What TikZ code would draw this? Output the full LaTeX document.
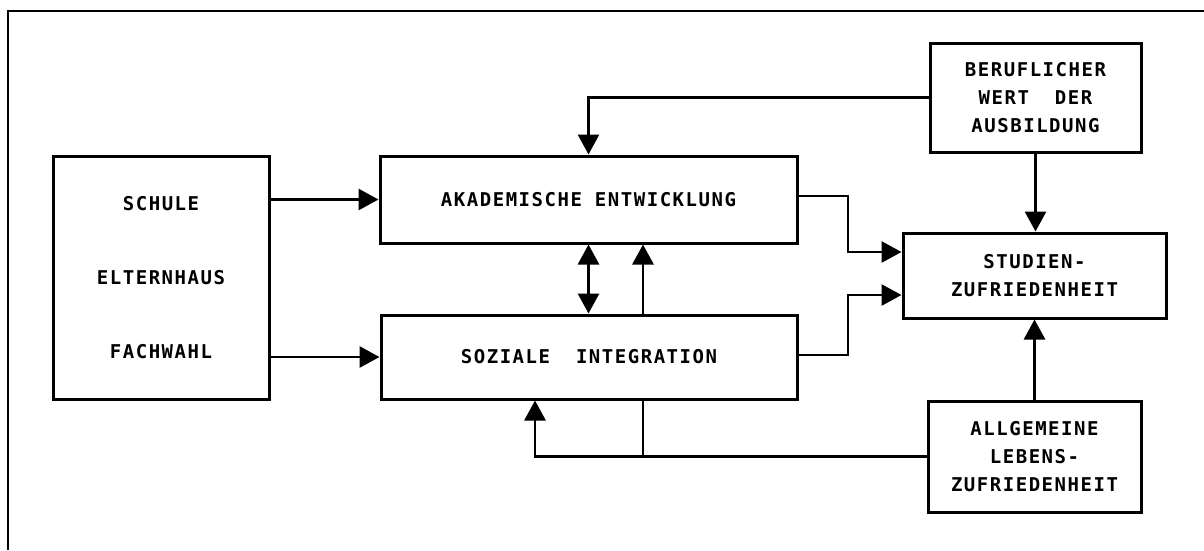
\documentclass[tikz,border=0pt]{standalone}
\usepackage{fontspec}
\usetikzlibrary{arrows.meta}
\newfontfamily\labfont[LetterSpace=8]{DejaVu Sans Mono}

\tikzset{
  box/.style={draw, line width=3pt, rectangle, inner sep=0pt, align=center,
    font=\labfont\bfseries\fontsize{19}{28}\selectfont},
  link/.style={line width=2.9pt},
  arr/.style={link, -{Triangle[length=20pt,width=21pt]}},
  dbl/.style={link, {Triangle[length=20pt,width=21pt]}-{Triangle[length=20pt,width=21pt]}}
}

\begin{document}
\begin{tikzpicture}[x=1pt,y=-1pt]
\useasboundingbox (0,0) rectangle (1204,550);

% frame
\draw[line width=2pt] (8,550) -- (8,11) -- (1204,11);

% boxes
\node[box, minimum width=216pt, minimum height=243pt] (src) at (161,277.5)
  {SCHULE\\[46pt]ELTERNHAUS\\[46pt]FACHWAHL};
\node[box, minimum width=417pt, minimum height=87pt] (ak) at (588.5,199.5)
  {AKADEMISCHE ENTWICKLUNG};
\node[box, minimum width=416pt, minimum height=84pt] (soz) at (589,357)
  {SOZIALE\ \ INTEGRATION};
\node[box, minimum width=211pt, minimum height=109pt] (ber) at (1035.5,97.5)
  {BERUFLICHER\\WERT\ \ DER\\AUSBILDUNG};
\node[box, minimum width=263pt, minimum height=85pt] (stu) at (1034.5,275.5)
  {STUDIEN-\\ZUFRIEDENHEIT};
\node[box, minimum width=213pt, minimum height=111pt] (all) at (1034.5,456.5)
  {ALLGEMEINE\\LEBENS-\\ZUFRIEDENHEIT};

% bend points
\coordinate (x643) at (643,0);
\coordinate (x535) at (535,0);
\coordinate (a1) at (848,196);
\coordinate (a2) at (848,252);
\coordinate (s1) at (848,355);
\coordinate (s2) at (848,295);

% connectors
\draw[arr] (src.east |- ak.west) -- (ak.west);
\draw[arr] (src.east |- soz.west) -- (soz.west);
\draw[dbl] (soz.north -| ak.south) -- (ak.south);
\draw[arr] (soz.north -| x643) -- (ak.south -| x643);
\draw[arr] (ber.west) -| (ak.north);
\draw[arr] (ber.south) -- (ber.south |- stu.north);
\draw[arr] (all.north) -- (all.north |- stu.south);
\draw[arr] (all.west) -| (soz.south -| x535);
\draw[link] (all.west -| x643) -- (soz.south -| x643);
\draw[arr] (ak.east |- a1) -- (a1) -- (a2) -- (stu.west |- a2);
\draw[arr] (soz.east |- s1) -- (s1) -- (s2) -- (stu.west |- s2);
\end{tikzpicture}
\end{document}
